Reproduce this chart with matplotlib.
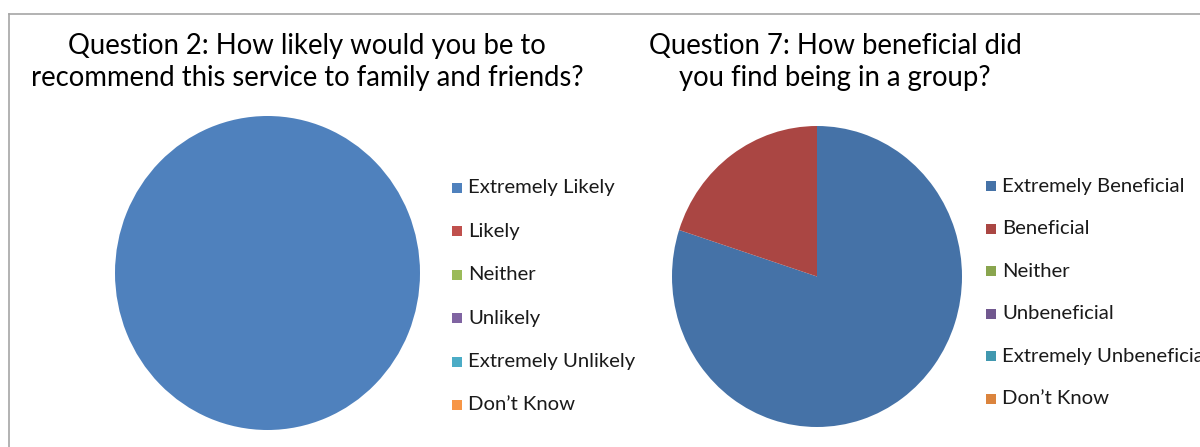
import matplotlib
matplotlib.use("Agg")
import matplotlib.pyplot as plt
from matplotlib.patches import Rectangle
from matplotlib.lines import Line2D

plt.rcParams['font.family'] = ['Lato', 'DejaVu Sans']

# data
q2_title = "Question 2: How likely would you be to\nrecommend this service to family and friends?"
q2_labels = ["Extremely Likely", "Likely", "Neither", "Unlikely",
             "Extremely Unlikely", "Don\u2019t Know"]
q2_values = [100, 0, 0, 0, 0, 0]

q7_title = "Question 7: How beneficial did\nyou find being in a group?"
q7_labels = ["Extremely Beneficial", "Beneficial", "Neither", "Unbeneficial",
             "Extremely Unbeneficial", "Don\u2019t Know"]
q7_values = [80, 20, 0, 0, 0, 0]

q2_colors = ["#4F81BD", "#C0504D", "#9BBB59", "#8064A2", "#4BACC6", "#F79646"]
q7_colors = ["#4572A7", "#AA4643", "#89A54E", "#71588F", "#4198AF", "#DB843D"]

W, H = 1200, 447
fig = plt.figure(figsize=(12, 4.47), dpi=100)


def px(x0, y0, w, h):
    # pixel box (top-left origin) -> figure fraction
    return [x0 / W, 1 - (y0 + h) / H, w / W, h / H]


def draw_pie(box, values, colors):
    ax = fig.add_axes(px(*box))
    vals = [v if v > 0 else 1e-9 for v in values]
    ax.pie(vals, colors=colors, startangle=90, counterclock=False,
           radius=1, wedgeprops=dict(linewidth=0))
    ax.set_aspect('auto')
    ax.set_xlim(-1, 1)
    ax.set_ylim(-1, 1)
    ax.axis('off')
    return ax


def draw_legend(labels, colors, x_sq, y0, step, fs):
    for i, (lab, col) in enumerate(zip(labels, colors)):
        yc = y0 + i * step
        fig.patches.append(Rectangle((x_sq / W, 1 - (yc + 5) / H), 10 / W, 10 / H,
                                     transform=fig.transFigure, facecolor=col,
                                     edgecolor='none'))
        fig.text((x_sq + 16) / W, 1 - yc / H, lab, fontsize=fs, color='#1a1a1a',
                 va='center', ha='left')


draw_pie((115, 116, 305, 314), q2_values, q2_colors)
draw_pie((672, 126, 290, 301), q7_values, q7_colors)

fig.text(307 / W, 1 - 62 / H, q2_title, fontsize=19.8, ha='center', va='center',
         linespacing=1.25, color='black')
fig.text(835 / W, 1 - 62 / H, q7_title, fontsize=19.8, ha='center', va='center',
         linespacing=1.25, color='black')

draw_legend(q2_labels, q2_colors, 452, 188, 43.4, 14.6)
draw_legend(q7_labels, q7_colors, 986, 186, 42.6, 14.6)

# chart border
fig.lines.append(Line2D([9 / W, 1], [1 - 14 / H, 1 - 14 / H], transform=fig.transFigure,
                        color='#a6a6a6', linewidth=1.2))
fig.lines.append(Line2D([9 / W, 9 / W], [0, 1 - 14 / H], transform=fig.transFigure,
                        color='#a6a6a6', linewidth=1.2))

fig.savefig("out.png", dpi=100, facecolor='white')
